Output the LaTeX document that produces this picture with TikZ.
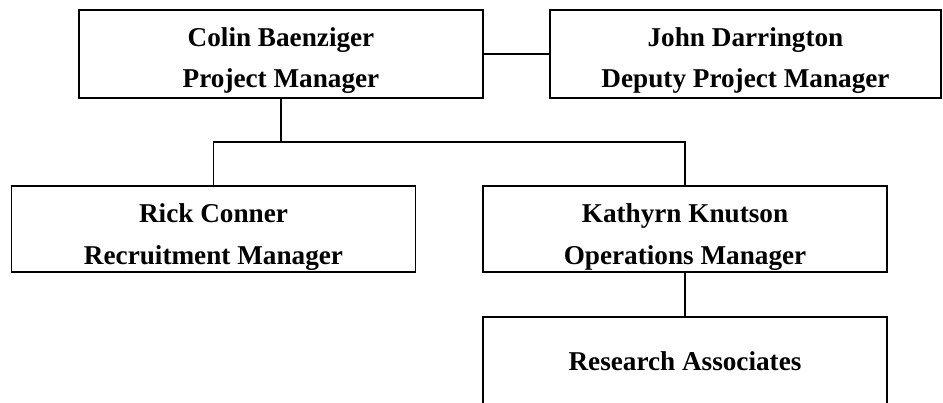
\documentclass[tikz,border=0pt]{standalone}
\usepackage{fontspec}
\setmainfont{Liberation Serif}
\usetikzlibrary{positioning, calc}
\tikzset{
  orgbox/.style = {
    shape = rectangle,
    draw = black,
    line width = 0.9pt,
    inner sep = 0pt,
    minimum width = 202pt,
    minimum height = 44pt,
  }
}
\tikzset{
  orgtext/.style = {
    anchor = base,
    inner sep = 0pt,
    font = \fontsize{13.6}{16}\selectfont\bfseries,
  }
}
\tikzset{
  orgline/.style = {
    draw = black, line width = 0.9pt,
  }
}

\begin{document}
\begin{tikzpicture}[x=0.5pt, y=-0.5pt]
        \useasboundingbox (0,0) rectangle (943,402);
        % boxes
        \node[orgbox](cb) at (281,54){};
        \node[orgbox, minimum width = 195.5pt](jd) at (745.5,54){};
        \node[orgbox, minimum height = 43pt](rc) at (213.5,229){};
        \node[orgbox, minimum height = 43pt](kk) at (685,229){};
        \node[orgbox](ra) at (685,361){};
        % texts
        \node[orgtext](cb1) at ($(cb.north)+(0,37)$){Colin Baenziger};
        \node[orgtext](cb2) at ($(cb.north)+(0,78)$){Project Manager};
        \node[orgtext](jd1) at ($(jd.north)+(0,37)$){John Darrington};
        \node[orgtext](jd2) at ($(jd.north)+(0,78)$){Deputy Project Manager};
        \node[orgtext](rc1) at ($(rc.north)+(0,37)$){Rick Conner};
        \node[orgtext](rc2) at ($(rc.north)+(0,79)$){Recruitment Manager};
        \node[orgtext](kk1) at ($(kk.north)+(0,37)$){Kathyrn Knutson};
        \node[orgtext](kk2) at ($(kk.north)+(0,79)$){Operations Manager};
        \node[orgtext](ra1) at ($(ra.north)+(0,54)$){Research Associates};
        % connectors
        \draw[orgline](cb) -- (jd);
        \draw[orgline](cb.south) -- ++(0,43) coordinate(split);
        \draw[orgline](rc.north) |- (split) -| (kk.north);
        \draw[orgline](kk) -- (ra);
    \end{tikzpicture}
\end{document}
